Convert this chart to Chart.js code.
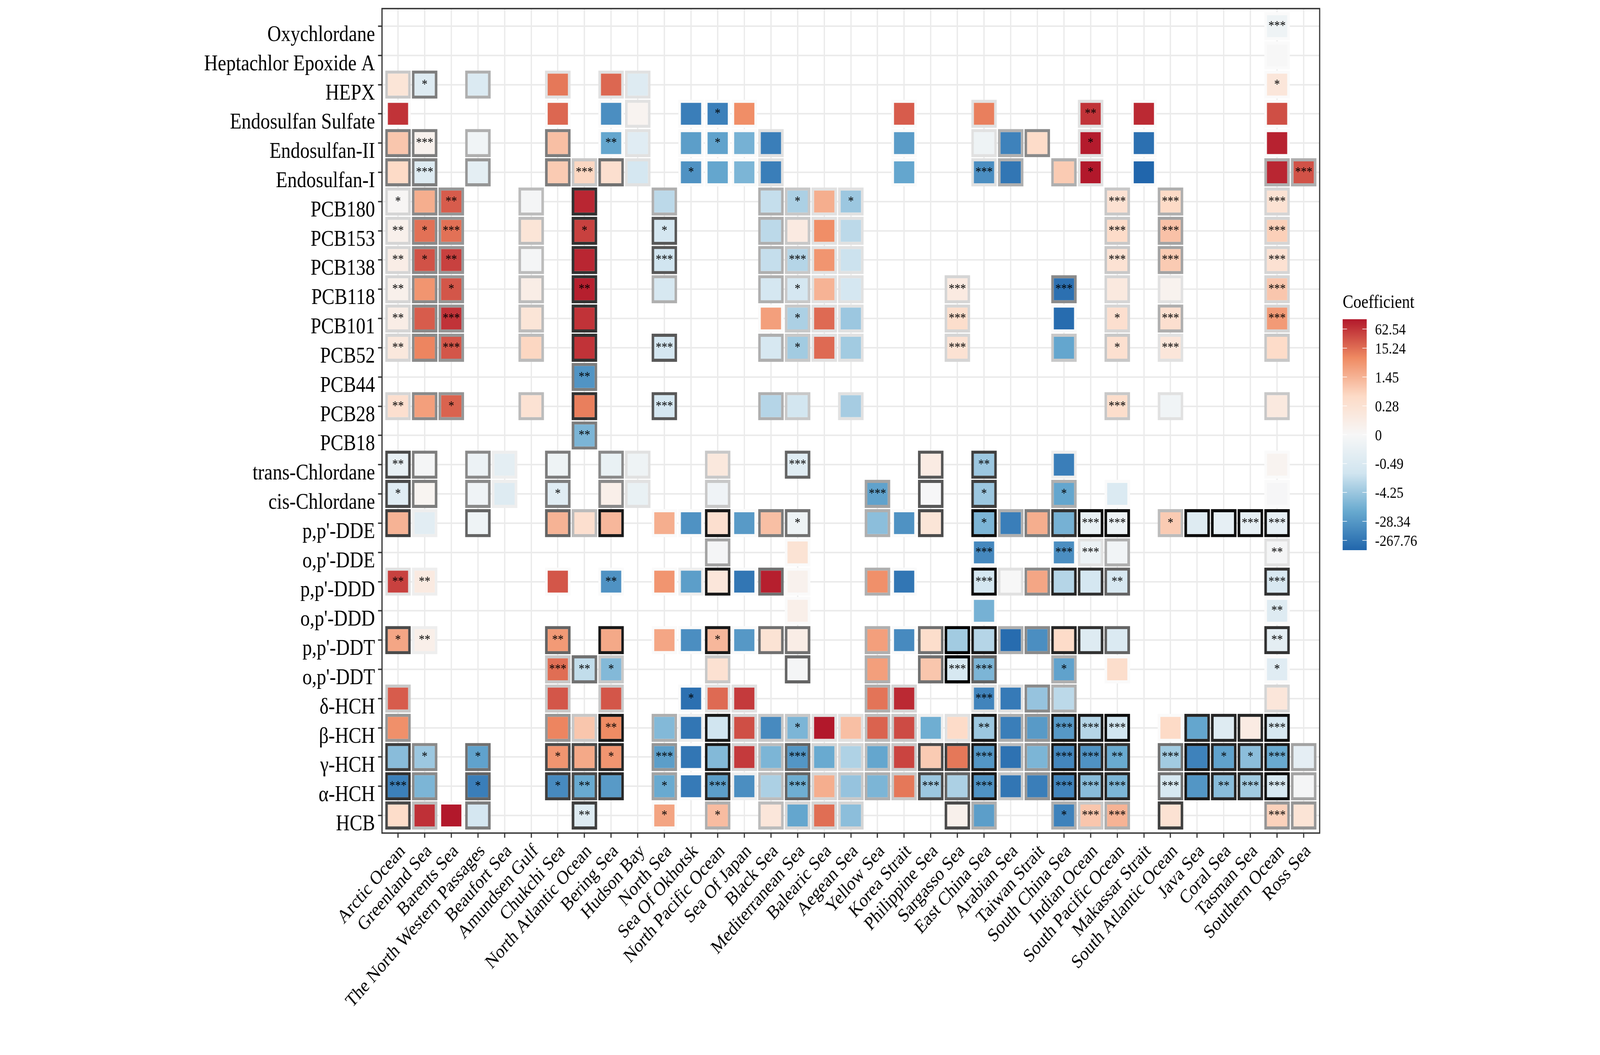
<!DOCTYPE html>
<html>
<head>
<meta charset="utf-8">
<title>Coefficient heatmap</title>
<script src="https://cdn.jsdelivr.net/npm/chart.js@4"></script>
<style>
  html, body { margin: 0; padding: 0; background: #fff; overflow: hidden; }
  canvas { display: block; }
</style>
</head>
<body>
<!-- drawing surface stays 4800x2700, shown at whatever size the window really has -->
<canvas id="heatmap" width="4800" height="2700" style="width:100vw;height:100vh"></canvas>
<script>
const _ = null;

const regions = ['Arctic Ocean', 'Greenland Sea', 'Barents Sea', 'The North Western Passages', 'Beaufort Sea', 'Amundsen Gulf', 'Chukchi Sea', 'North Atlantic Ocean', 'Bering Sea', 'Hudson Bay', 'North Sea', 'Sea Of Okhotsk', 'North Pacific Ocean', 'Sea Of Japan', 'Black Sea', 'Mediterranean Sea', 'Balearic Sea', 'Aegean Sea', 'Yellow Sea', 'Korea Strait', 'Philippine Sea', 'Sargasso Sea', 'East China Sea', 'Arabian Sea', 'Taiwan Strait', 'South China Sea', 'Indian Ocean', 'South Pacific Ocean', 'Makassar Strait', 'South Atlantic Ocean', 'Java Sea', 'Coral Sea', 'Tasman Sea', 'Southern Ocean', 'Ross Sea'];

const compounds = ['Oxychlordane', 'Heptachlor Epoxide A', 'HEPX', 'Endosulfan Sulfate', 'Endosulfan-II', 'Endosulfan-I', 'PCB180', 'PCB153', 'PCB138', 'PCB118', 'PCB101', 'PCB52', 'PCB44', 'PCB28', 'PCB18', 'trans-Chlordane', 'cis-Chlordane', "p,p'-DDE", "o,p'-DDE", "p,p'-DDD", "o,p'-DDD", "p,p'-DDT", "o,p'-DDT", 'δ-HCH', 'β-HCH', 'γ-HCH', 'α-HCH', 'HCB'];

// coefficient read as a position on the colour bar, -100 (bottom) to 100 (top)
const coefficient = [
  [_,_,_,_,_,_,_,_,_,_, _,_,_,_,_,_,_,_,_,_, _,_,_,_,_,_,_,_,_,_, _,_,_,-8,_],
  [_,_,_,_,_,_,_,_,_,_, _,_,_,_,_,_,_,_,_,_, _,_,_,_,_,_,_,_,_,_, _,_,_,0,_],
  [22,-22,_,-25,_,_,72,_,77,-22, _,_,_,_,_,_,_,_,_,_, _,_,_,_,_,_,_,_,_,_, _,_,_,20,_],
  [92,_,_,_,_,_,77,_,-80,5, _,-88,-87,65,_,_,_,_,_,80, _,_,70,_,_,_,92,_,95,_, _,_,_,84,_],
  [42,7,_,-6,_,_,45,_,-68,-20, _,-72,-70,-62,-88,_,_,_,_,-73, _,_,-8,-86,32,_,99,_,-95,_, _,_,_,97,_],
  [33,-22,_,-17,_,_,40,35,28,-30, _,-78,-68,-60,-88,_,_,_,_,-68, _,_,-80,-92,_,40,100,_,-100,_, _,_,_,96,83],
  [2,52,80,_,_,-3,_,96,_,_, -40,_,_,_,-37,-45,52,-50,_,_, _,_,_,_,_,_,_,26,_,33, _,_,_,25,_],
  [8,74,74,_,_,22,_,88,_,_, -30,_,_,_,-40,15,65,-40,_,_, _,_,_,_,_,_,_,32,_,44, _,_,_,38,_],
  [12,83,88,_,_,-3,_,96,_,_, -33,_,_,_,-37,-42,62,-35,_,_, _,_,_,_,_,_,_,25,_,40, _,_,_,26,_],
  [8,62,82,_,_,12,_,98,_,_, -28,_,_,_,-30,-30,50,-30,_,_, _,15,_,_,_,-95,_,17,_,6, _,_,_,42,_],
  [12,80,92,_,_,22,_,92,_,_, _,_,_,_,58,-45,76,-50,_,_, _,30,_,_,_,-97,_,28,_,28, _,_,_,60,_],
  [18,68,82,_,_,35,_,92,_,_, -30,_,_,_,-28,-48,76,-48,_,_, _,25,_,_,_,-68,_,27,_,20, _,_,_,32,_],
  [_,_,_,_,_,_,_,-77,_,_, _,_,_,_,_,_,_,_,_,_, _,_,_,_,_,_,_,_,_,_, _,_,_,_,_],
  [28,58,78,_,_,25,_,70,_,_, -30,_,_,_,-42,-32,_,-47,_,_, _,_,_,_,_,_,_,30,_,-6, _,_,_,17,_],
  [_,_,_,_,_,_,_,-60,_,_, _,_,_,_,_,_,_,_,_,_, _,_,_,_,_,_,_,_,_,_, _,_,_,_,_],
  [-13,-3,_,-10,-17,_,-8,_,-12,-8, _,_,18,_,_,-20,_,_,_,_, 14,_,-50,_,_,-88,_,_,_,_, _,_,_,5,_],
  [-20,4,_,-7,-22,_,-20,_,10,-12, _,_,-7,_,_,_,_,_,-70,_, -1,_,-50,_,_,-68,_,-25,_,_, _,_,_,-1,_],
  [50,-18,_,-8,_,_,50,28,48,_, 52,-78,28,-74,45,-8,_,_,-55,-78, 22,_,-60,-88,52,-62,-13,-10,_,40, -22,-15,-15,-15,_],
  [_,_,_,_,_,_,_,_,_,_, _,_,-3,_,_,24,_,_,_,_, _,_,-83,_,_,-80,-10,-5,_,_, _,_,_,-3,_],
  [88,15,_,_,_,_,82,_,-78,_, 62,-72,20,-92,98,7,_,_,64,-92, _,_,-30,0,55,-42,-30,-28,_,_, _,_,_,-27,_],
  [_,_,_,_,_,_,_,_,_,_, _,_,_,_,_,10,_,_,_,_, _,_,-62,_,_,_,_,_,_,_, _,_,_,-22,_],
  [55,10,_,_,_,_,60,_,54,_, 55,-80,48,-75,24,12,_,_,58,-82, 30,-48,-42,-97,-80,32,-22,-25,_,_, _,_,_,-17,_],
  [_,_,_,_,_,_,75,-38,-58,_, _,_,26,_,_,-3,_,_,58,_, 42,-28,-60,_,_,-70,_,30,_,_, _,_,_,-20,_],
  [80,_,_,_,_,_,82,_,82,_, _,-95,76,90,_,_,_,_,73,95, _,_,-85,-90,-52,-40,_,_,_,_, _,_,_,20,_],
  [64,_,_,_,_,_,68,42,66,_, -58,-92,-33,84,-82,-60,100,45,78,85, -64,32,-50,-88,-74,-75,-42,-33,_,33, -68,-22,14,-28,_],
  [-56,-50,_,-70,_,_,62,54,62,_, -72,-92,-58,90,-60,-76,-66,-44,-68,87, 40,72,-76,-94,-60,-84,-78,-66,_,-48, -86,-70,-55,-66,-16],
  [-87,-60,_,-88,_,_,-82,-66,-74,_, -66,-90,-72,-80,-45,-64,52,-52,-60,72, -50,-45,-78,-92,-88,-85,-56,-60,_,-28, -76,-56,-48,-28,-3],
  [31,93,100,-30,_,_,_,-22,_,_, 56,_,46,_,20,-68,75,-55,_,_, _,8,-72,_,_,-86,42,50,_,25, _,_,_,37,23]
];

// darkness of the frame round each tile, 0 (near white) to 10 (black)
const frameDarkness = [
  [0,0,0,0,0,0,0,0,0,0, 0,0,0,0,0,0,0,0,0,0, 0,0,0,0,0,0,0,0,0,0, 0,0,0,0,0],
  [0,0,0,0,0,0,0,0,0,0, 0,0,0,0,0,0,0,0,0,0, 0,0,0,0,0,0,0,0,0,0, 0,0,0,0,0],
  [2,5,0,3,0,0,1,0,1,1, 0,0,0,0,0,0,0,0,0,0, 0,0,0,0,0,0,0,0,0,0, 0,0,0,0,0],
  [0,0,0,0,0,0,0,0,0,1, 0,0,0,0,0,0,0,0,0,0, 0,0,1,0,0,0,1,0,0,0, 0,0,0,0,0],
  [5,5,0,3,0,0,5,0,0,1, 0,0,0,0,1,0,0,0,0,0, 0,0,1,3,4.5,0,1,0,0,0, 0,0,0,0,0],
  [5,5,0,4,0,0,5,2,5.5,1, 0,0,0,0,1,0,0,0,0,0, 0,0,1,3,0,3,1,0,0,0, 0,0,0,3,3],
  [1.5,4.5,4,0,0,2.5,0,8,0,0, 3,0,0,0,3,2,1,1,0,0, 0,0,0,0,0,0,0,2,0,3, 0,0,0,1.5,0],
  [1.5,4.5,4,0,0,2.5,0,8,0,0, 6.5,0,0,0,3,2,1,1,0,0, 0,0,0,0,0,0,0,2,0,3.5, 0,0,0,1.5,0],
  [1.5,4.5,4,0,0,2.5,0,8,0,0, 6.5,0,0,0,3,2,1,1,0,0, 0,0,0,0,0,0,0,2,0,3.5, 0,0,0,1.5,0],
  [1.5,4.5,4,0,0,2.5,0,8,0,0, 3,0,0,0,3,2,1,1,0,0, 0,1.5,0,0,0,4.5,0,1.5,0,1, 0,0,0,1.5,0],
  [1.5,4.5,4,0,0,2.5,0,8,0,0, 0,0,0,0,0,2,1,1,0,0, 0,1.5,0,0,0,0,0,1.5,0,3, 0,0,0,1.5,0],
  [1.5,4.5,4,0,0,2.5,0,8,0,0, 6.5,0,0,0,3,2,1,1,0,0, 0,1.5,0,0,0,2,0,2,0,1, 0,0,0,2,0],
  [0,0,0,0,0,0,0,5,0,0, 0,0,0,0,0,0,0,0,0,0, 0,0,0,0,0,0,0,0,0,0, 0,0,0,0,0],
  [1.5,4.5,4,0,0,2.5,0,8,0,0, 6.5,0,0,0,3,2,0,1,0,0, 0,0,0,0,0,0,0,2,0,1, 0,0,0,2,0],
  [0,0,0,0,0,0,0,5,0,0, 0,0,0,0,0,0,0,0,0,0, 0,0,0,0,0,0,0,0,0,0, 0,0,0,0,0],
  [7,5,0,4.5,0.5,0,5,0,4.5,1, 0,0,2,0,0,6,0,0,0,0, 6.5,0,7.5,0,0,0.5,0,0,0,0, 0,0,0,0,0],
  [7,5,0,4.5,0.5,0,5,0,4.5,1, 0,0,2,0,0,0,0,0,3.5,0, 6.5,0,7.5,0,0,3,0,0,0,0, 0,0,0,0,0],
  [7.5,0.5,0,6,0,0,6,2.5,9,0, 0,0,9,0,5,5.5,0,0,3,0, 7,0,9.5,3,5,8,9.5,9.5,0,2.5, 9.5,9.5,9.5,9.5,0],
  [0,0,0,0,0,0,0,0,0,0, 0,0,3.5,0,0,0,0,0,0,0, 0,0,0,0,0,0,1,3,0,0, 0,0,0,1,0],
  [1,0.5,0,0,0,0,0,0,0,0, 0,0.5,9,0,5.5,0,0,0,3,0, 0,0,9.5,1,4.5,8.5,8,6,0,0, 0,0,0,8,0],
  [0,0,0,0,0,0,0,0,0,0, 0,0,0,0,0,0,0,0,0,0, 0,0,0,0,0,0,0,0,0,0, 0,0,0,0,0],
  [7,0.5,0,0,0,0,6,0,9,0, 0,0,9,0,5.5,5.5,0,0,3,0, 5.5,10,9,3,4.5,8.5,8,6,0,0, 0,0,0,8,0],
  [0,0,0,0,0,0,2,5.5,2,0, 0,0,2,0,0,6,0,0,3,0, 5.5,10,6,0,0,3,0,0,0,0, 0,0,0,0,0],
  [2,0,0,0,0,0,2,0,2,0, 0,0,1,1,0,0,0,0,3,1.5, 0,0,1,1,4.5,3,0,0,0,0, 0,0,0,1.5,0],
  [4,0,0,0,0,0,4,2,9,0, 3,0.5,9,1.5,2,2,1,1,2.5,2, 0.5,1,9,3,4,9,9,9.5,0,0, 8.5,8.5,8.5,9.5,0],
  [7.5,4.5,0,5.5,0,0,7,7,8.5,0, 4,0,9,1.5,2.5,6,1.5,1.5,2.5,2, 7,7.5,9,2.5,4,9,8.5,8,0,5.5, 9,8.5,8.5,9,3.5],
  [8,4.5,0,6,0,0,7.5,7,8.5,0, 3.5,0,8.5,0.5,2.5,6,1.5,2,3,2, 7,6,9,2,4,9,8.5,8.5,0,5.5, 9,8.5,8.5,9.5,3.5],
  [7,2.5,0,5,0,0,0,7.5,0,0, 0,0,3,0,2.5,1.5,1.5,1.5,0,0, 0,7,3,0,0,3,2,3,0,7.5, 0,0,0,4,4]
];

// significance asterisks per tile
const starCount = [
  [0,0,0,0,0,0,0,0,0,0, 0,0,0,0,0,0,0,0,0,0, 0,0,0,0,0,0,0,0,0,0, 0,0,0,3,0],
  [0,0,0,0,0,0,0,0,0,0, 0,0,0,0,0,0,0,0,0,0, 0,0,0,0,0,0,0,0,0,0, 0,0,0,0,0],
  [0,1,0,0,0,0,0,0,0,0, 0,0,0,0,0,0,0,0,0,0, 0,0,0,0,0,0,0,0,0,0, 0,0,0,1,0],
  [0,0,0,0,0,0,0,0,0,0, 0,0,1,0,0,0,0,0,0,0, 0,0,0,0,0,0,2,0,0,0, 0,0,0,0,0],
  [0,3,0,0,0,0,0,0,2,0, 0,0,1,0,0,0,0,0,0,0, 0,0,0,0,0,0,1,0,0,0, 0,0,0,0,0],
  [0,3,0,0,0,0,0,3,0,0, 0,1,0,0,0,0,0,0,0,0, 0,0,3,0,0,0,1,0,0,0, 0,0,0,0,3],
  [1,0,2,0,0,0,0,0,0,0, 0,0,0,0,0,1,0,1,0,0, 0,0,0,0,0,0,0,3,0,3, 0,0,0,3,0],
  [2,1,3,0,0,0,0,1,0,0, 1,0,0,0,0,0,0,0,0,0, 0,0,0,0,0,0,0,3,0,3, 0,0,0,3,0],
  [2,1,2,0,0,0,0,0,0,0, 3,0,0,0,0,3,0,0,0,0, 0,0,0,0,0,0,0,3,0,3, 0,0,0,3,0],
  [2,0,1,0,0,0,0,2,0,0, 0,0,0,0,0,1,0,0,0,0, 0,3,0,0,0,3,0,0,0,0, 0,0,0,3,0],
  [2,0,3,0,0,0,0,0,0,0, 0,0,0,0,0,1,0,0,0,0, 0,3,0,0,0,0,0,1,0,3, 0,0,0,3,0],
  [2,0,3,0,0,0,0,0,0,0, 3,0,0,0,0,1,0,0,0,0, 0,3,0,0,0,0,0,1,0,3, 0,0,0,0,0],
  [0,0,0,0,0,0,0,2,0,0, 0,0,0,0,0,0,0,0,0,0, 0,0,0,0,0,0,0,0,0,0, 0,0,0,0,0],
  [2,0,1,0,0,0,0,0,0,0, 3,0,0,0,0,0,0,0,0,0, 0,0,0,0,0,0,0,3,0,0, 0,0,0,0,0],
  [0,0,0,0,0,0,0,2,0,0, 0,0,0,0,0,0,0,0,0,0, 0,0,0,0,0,0,0,0,0,0, 0,0,0,0,0],
  [2,0,0,0,0,0,0,0,0,0, 0,0,0,0,0,3,0,0,0,0, 0,0,2,0,0,0,0,0,0,0, 0,0,0,0,0],
  [1,0,0,0,0,0,1,0,0,0, 0,0,0,0,0,0,0,0,3,0, 0,0,1,0,0,1,0,0,0,0, 0,0,0,0,0],
  [0,0,0,0,0,0,0,0,0,0, 0,0,0,0,0,1,0,0,0,0, 0,0,1,0,0,0,3,3,0,1, 0,0,3,3,0],
  [0,0,0,0,0,0,0,0,0,0, 0,0,0,0,0,0,0,0,0,0, 0,0,3,0,0,3,3,0,0,0, 0,0,0,2,0],
  [2,2,0,0,0,0,0,0,2,0, 0,0,0,0,0,0,0,0,0,0, 0,0,3,0,0,0,0,2,0,0, 0,0,0,3,0],
  [0,0,0,0,0,0,0,0,0,0, 0,0,0,0,0,0,0,0,0,0, 0,0,0,0,0,0,0,0,0,0, 0,0,0,2,0],
  [1,2,0,0,0,0,2,0,0,0, 0,0,1,0,0,0,0,0,0,0, 0,0,0,0,0,0,0,0,0,0, 0,0,0,2,0],
  [0,0,0,0,0,0,3,2,1,0, 0,0,0,0,0,0,0,0,0,0, 0,3,3,0,0,1,0,0,0,0, 0,0,0,1,0],
  [0,0,0,0,0,0,0,0,0,0, 0,1,0,0,0,0,0,0,0,0, 0,0,3,0,0,0,0,0,0,0, 0,0,0,0,0],
  [0,0,0,0,0,0,0,0,2,0, 0,0,0,0,0,1,0,0,0,0, 0,0,2,0,0,3,3,3,0,0, 0,0,0,3,0],
  [0,1,0,1,0,0,1,0,1,0, 3,0,0,0,0,3,0,0,0,0, 0,0,3,0,0,3,3,2,0,3, 0,1,1,3,0],
  [3,0,0,1,0,0,1,2,0,0, 1,0,3,0,0,3,0,0,0,0, 3,0,3,0,0,3,3,3,0,3, 0,2,3,3,0],
  [0,0,0,0,0,0,0,2,0,0, 1,0,1,0,0,0,0,0,0,0, 0,0,0,0,0,1,3,3,0,0, 0,0,0,3,0]
];

const legendLabels = ['62.54', '15.24', '1.45', '0.28', '0', '-0.49', '-4.25', '-28.34', '-267.76'];
const legendPositions = [91.5, 75, 50, 25, 0, -25, -50, -75, -91.5];
const colourStops = ['#2166ac', '#67a9cf', '#d1e5f0', '#f7f7f7', '#fddbc7', '#ef8a62', '#b2182b'];

const serif = '"Liberation Serif", "Times New Roman", serif';

function hexToRgb(hex) {
    return [1, 3, 5].map(i => parseInt(hex.slice(i, i + 2), 16));
}

function colourFor(pos) {
    const f = (pos + 100) / 200 * (colourStops.length - 1);
    const i = Math.min(Math.floor(f), colourStops.length - 2);
    const a = hexToRgb(colourStops[i]);
    const b = hexToRgb(colourStops[i + 1]);
    const rgb = a.map((v, k) => Math.round(v + (b[k] - v) * (f - i)));
    return `rgb(${rgb[0]},${rgb[1]},${rgb[2]})`;
}

function frameColour(d) {
    const g = Math.round(250 - 25 * d);
    return `rgb(${g},${g},${g})`;
}

// one floating bar per tile: x is the region, y spans the compound's row
const tiles = [];
coefficient.forEach((row, r) => {
    row.forEach((value, c) => {
        if (value === null) return;
        tiles.push({ x: c, y: [r - 0.481, r + 0.481], pos: value, frame: frameDarkness[r][c] });
    });
});

const starsPlugin = {
    id: 'stars',
    afterDatasetsDraw(chart) {
        const { ctx, scales } = chart;
        ctx.save();
        ctx.fillStyle = '#000';
        ctx.font = `34.5px ${serif}`;
        ctx.textAlign = 'center';
        ctx.textBaseline = 'alphabetic';
        starCount.forEach((row, r) => {
            row.forEach((n, c) => {
                if (n > 0) ctx.fillText('*'.repeat(n), scales.x.getPixelForValue(c), scales.y.getPixelForValue(r) + 9);
            });
        });
        ctx.restore();
    }
};

const panelBorder = {
    id: 'panelBorder',
    afterDraw(chart) {
        const { ctx, chartArea: a } = chart;
        ctx.save();
        ctx.strokeStyle = '#333';
        ctx.lineWidth = 3.5;
        ctx.strokeRect(a.left, a.top, a.right - a.left, a.bottom - a.top);
        ctx.restore();
    }
};

// Colour bar legend
const colourBar = {
    id: 'colourBar',
    afterDraw(chart) {
        const { ctx } = chart;
        const left = 4028, width = 72, top = 817, bottom = 1408;
        const yFor = p => (top + bottom) / 2 - p / 100 * (bottom - top) / 2;
        ctx.save();
        ctx.fillStyle = '#000';
        ctx.font = `48px ${serif}`;
        ctx.textAlign = 'left';
        ctx.textBaseline = 'alphabetic';
        ctx.fillText('Coefficient', left, 788);

        const grad = ctx.createLinearGradient(0, bottom, 0, top);
        colourStops.forEach((c, i) => grad.addColorStop(i / (colourStops.length - 1), c));
        ctx.fillStyle = grad;
        ctx.fillRect(left, top, width, bottom - top);

        ctx.strokeStyle = '#fff';
        ctx.lineWidth = 1.5;
        ctx.font = `41px ${serif}`;
        legendLabels.forEach((label, i) => {
            const y = yFor(legendPositions[i]);
            ctx.beginPath();
            ctx.moveTo(left, y); ctx.lineTo(left + 13, y);
            ctx.moveTo(left + width - 13, y); ctx.lineTo(left + width, y);
            ctx.stroke();
            ctx.fillStyle = '#000';
            ctx.fillText(label, 4125, y + 14);
        });
        ctx.restore();
    }
};

const gridOptions = { color: '#ebebeb', lineWidth: 4, tickColor: '#333', tickWidth: 3.5, tickLength: 12, offset: false };

new Chart(document.getElementById('heatmap'), {
    type: 'bar',
    data: {
        datasets: [{
            data: tiles,
            backgroundColor: ctx => colourFor(ctx.raw.pos),
            borderColor: ctx => frameColour(ctx.raw.frame),
            borderWidth: 8,
            borderSkipped: false,
            barPercentage: 0.96,
            categoryPercentage: 1
        }]
    },
    options: {
        responsive: false,
        animation: false,
        devicePixelRatio: 1,
        layout: { padding: { top: 22, right: 841, left: 0, bottom: 0 } },
        plugins: { legend: { display: false }, tooltip: { enabled: false } },
        scales: {
            x: {
                type: 'linear',
                min: -0.6,
                max: 34.6,
                offset: false,
                grid: gridOptions,
                border: { display: false },
                afterBuildTicks: axis => { axis.ticks = regions.map((_, i) => ({ value: i })); },
                afterFit: axis => { axis.height = 568; axis.paddingLeft = 0; axis.paddingRight = 0; },
                ticks: {
                    autoSkip: false,
                    minRotation: 45,
                    maxRotation: 45,
                    padding: 6,
                    labelOffset: 14,
                    color: '#000',
                    font: { family: serif, size: 49.5 },
                    callback: v => regions[v]
                }
            },
            y: {
                type: 'linear',
                reverse: true,
                min: -0.6,
                max: 27.6,
                grid: gridOptions,
                border: { display: false },
                afterBuildTicks: axis => { axis.ticks = compounds.map((_, i) => ({ value: i })); },
                afterFit: axis => { axis.width = 1146; axis.paddingTop = 0; axis.paddingBottom = 0; },
                ticks: {
                    autoSkip: false,
                    padding: 9,
                    labelOffset: 23,
                    color: '#000',
                    font: { family: serif, size: 57 },
                    callback: v => compounds[v]
                }
            }
        }
    },
    plugins: [starsPlugin, panelBorder, colourBar]
});
</script>
</body>
</html>
